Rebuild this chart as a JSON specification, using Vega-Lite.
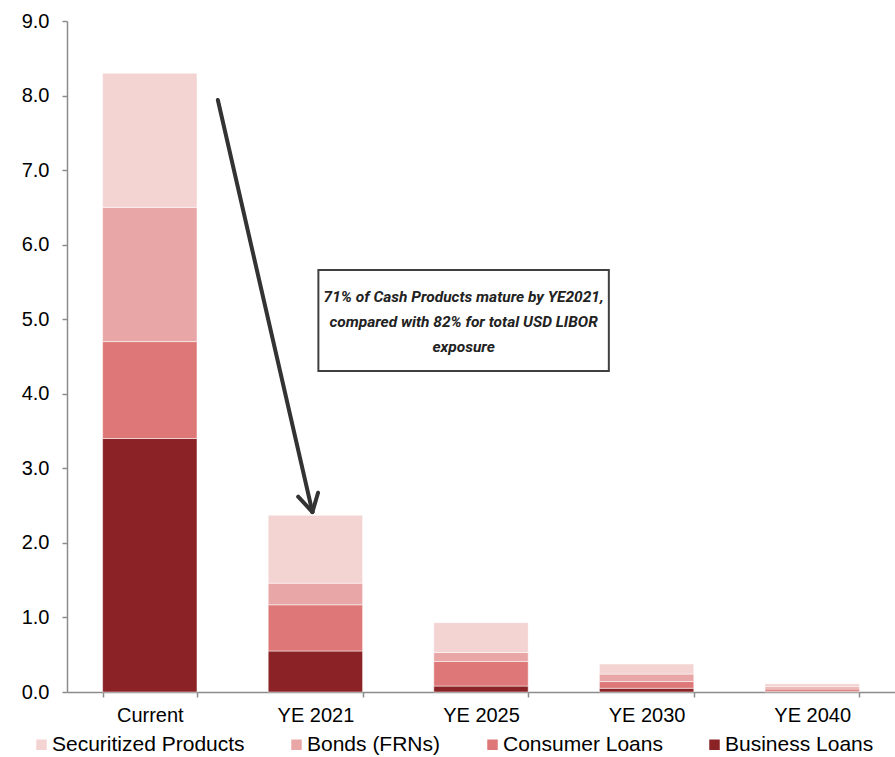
{
  "$schema": "https://vega.github.io/schema/vega-lite/v6.json",
  "width": 828,
  "height": 671,
  "autosize": {"type": "none"},
  "padding": {"left": 67, "top": 21, "right": 0, "bottom": 65},
  "config": {"view": {"stroke": null}, "font": "Liberation Sans"},
  "datasets": {
    "bars": [
      {"period": "Current", "type": "Business Loans", "ord": 1, "value": 3.4},
      {"period": "Current", "type": "Consumer Loans", "ord": 2, "value": 1.3},
      {"period": "Current", "type": "Bonds (FRNs)", "ord": 3, "value": 1.8},
      {"period": "Current", "type": "Securitized Products", "ord": 4, "value": 1.8},
      {"period": "YE 2021", "type": "Business Loans", "ord": 1, "value": 0.55},
      {"period": "YE 2021", "type": "Consumer Loans", "ord": 2, "value": 0.62},
      {"period": "YE 2021", "type": "Bonds (FRNs)", "ord": 3, "value": 0.29},
      {"period": "YE 2021", "type": "Securitized Products", "ord": 4, "value": 0.91},
      {"period": "YE 2025", "type": "Business Loans", "ord": 1, "value": 0.08},
      {"period": "YE 2025", "type": "Consumer Loans", "ord": 2, "value": 0.33},
      {"period": "YE 2025", "type": "Bonds (FRNs)", "ord": 3, "value": 0.12},
      {"period": "YE 2025", "type": "Securitized Products", "ord": 4, "value": 0.4},
      {"period": "YE 2030", "type": "Business Loans", "ord": 1, "value": 0.05},
      {"period": "YE 2030", "type": "Consumer Loans", "ord": 2, "value": 0.09},
      {"period": "YE 2030", "type": "Bonds (FRNs)", "ord": 3, "value": 0.1},
      {"period": "YE 2030", "type": "Securitized Products", "ord": 4, "value": 0.135},
      {"period": "YE 2040", "type": "Business Loans", "ord": 1, "value": 0.01},
      {"period": "YE 2040", "type": "Consumer Loans", "ord": 2, "value": 0.03},
      {"period": "YE 2040", "type": "Bonds (FRNs)", "ord": 3, "value": 0.03},
      {"period": "YE 2040", "type": "Securitized Products", "ord": 4, "value": 0.04}
    ],
    "box": [{"x": 1.518, "x2": 3.272, "y": 5.66, "y2": 4.305}],
    "arrow": [
      {"x": 0.911, "y": 7.94, "x2": 1.482, "y2": 2.414},
      {"x": 1.396, "y": 2.62, "x2": 1.482, "y2": 2.414},
      {"x": 1.516, "y": 2.673, "x2": 1.482, "y2": 2.414}
    ],
    "note": [
      {"x": 2.395, "y": 5.298, "t": "71% of Cash Products mature by YE2021,"},
      {"x": 2.395, "y": 4.963, "t": "compared with 82% for total USD LIBOR"},
      {"x": 2.395, "y": 4.628, "t": "exposure"}
    ]
  },
  "layer": [
    {
      "data": {"name": "bars"},
      "mark": {"type": "bar", "stroke": "white", "strokeWidth": 0.5},
      "encoding": {
        "x": {
          "field": "period", "type": "nominal",
          "sort": ["Current", "YE 2021", "YE 2025", "YE 2030", "YE 2040"],
          "scale": {"paddingInner": 0.43, "paddingOuter": 0.215},
          "axis": {"title": null, "labelAngle": 0, "tickBand": "extent", "domainColor": "#8c8c8c", "domainWidth": 1.5, "tickColor": "#8c8c8c", "tickWidth": 1.5, "tickSize": 5, "labelFontSize": 20, "labelColor": "black", "labelPadding": 8}
        },
        "y": {
          "field": "value", "type": "quantitative", "stack": "zero",
          "scale": {"domain": [0, 9], "nice": false},
          "axis": {"title": null, "format": ".1f", "values": [0, 1, 2, 3, 4, 5, 6, 7, 8, 9], "grid": false, "domainColor": "#8c8c8c", "domainWidth": 1.5, "tickColor": "#8c8c8c", "tickWidth": 1.5, "tickSize": 5, "labelFontSize": 20, "labelColor": "black", "labelPadding": 13}
        },
        "color": {
          "field": "type", "type": "nominal",
          "scale": {
            "domain": ["Securitized Products", "Bonds (FRNs)", "Consumer Loans", "Business Loans"],
            "range": ["#F4D3D3", "#E9A6A6", "#DE7777", "#8B2225"]
          },
          "legend": {"title": null, "orient": "none", "legendX": -36, "legendY": 713, "direction": "horizontal", "columns": 4, "columnPadding": 41, "symbolType": "square", "symbolSize": 110, "symbolStrokeWidth": 0, "labelFontSize": 21, "labelLimit": 400, "labelColor": "black", "labelOffset": 0}
        },
        "order": {"field": "ord", "type": "quantitative"}
      }
    },
    {
      "data": {"name": "box"},
      "mark": {"type": "rect", "fill": "white", "stroke": "#404040", "strokeWidth": 2},
      "encoding": {
        "x": {"field": "x", "type": "quantitative", "scale": {"domain": [0, 5], "nice": false, "zero": false}, "axis": null},
        "x2": {"field": "x2"},
        "y": {"field": "y", "type": "quantitative", "title": null},
        "y2": {"field": "y2"}
      }
    },
    {
      "data": {"name": "arrow"},
      "mark": {"type": "rule", "color": "#333333", "strokeWidth": 4, "strokeCap": "round"},
      "encoding": {
        "x": {"field": "x", "type": "quantitative", "scale": {"domain": [0, 5], "nice": false, "zero": false}, "axis": null},
        "x2": {"field": "x2"},
        "y": {"field": "y", "type": "quantitative", "title": null},
        "y2": {"field": "y2"}
      }
    },
    {
      "data": {"name": "note"},
      "mark": {"type": "text", "font": "Roboto", "fontStyle": "italic", "fontWeight": "bold", "fontSize": 15.5, "color": "#222222", "align": "center", "baseline": "middle"},
      "encoding": {
        "x": {"field": "x", "type": "quantitative", "scale": {"domain": [0, 5], "nice": false, "zero": false}, "axis": null},
        "y": {"field": "y", "type": "quantitative", "title": null},
        "text": {"field": "t"}
      }
    }
  ],
  "resolve": {"scale": {"x": "independent"}}
}
